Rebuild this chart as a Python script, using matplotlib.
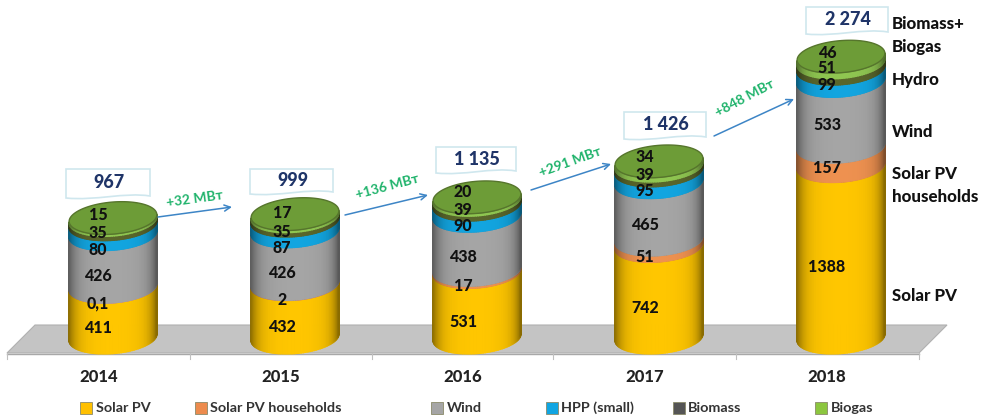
import numpy as np
import matplotlib
matplotlib.use('Agg')
import matplotlib.pyplot as plt
from matplotlib.patches import PathPatch, Polygon
from matplotlib.path import Path
from matplotlib.transforms import Affine2D

plt.rcParams['font.family'] = ['Lato', 'Open Sans', 'DejaVu Sans']

years = ['2014', '2015', '2016', '2017', '2018']
solar_pv = [411, 432, 531, 742, 1388]
households = [0.1, 2, 17, 51, 157]
wind = [426, 426, 438, 465, 533]
hydro = [80, 87, 90, 95, 99]
biomass = [35, 35, 39, 39, 51]
biogas = [15, 17, 20, 34, 46]
totals = ['967', '999', '1 135', '1 426', '2 274']
deltas = ['+32 МВт', '+136 МВт', '+291 МВт', '+848 МВт']
value_text = [['411', '432', '531', '742', '1388'],
              ['0,1', '2', '17', '51', '157'],
              ['426', '426', '438', '465', '533'],
              ['80', '87', '90', '95', '99'],
              ['35', '35', '39', '39', '51'],
              ['15', '17', '20', '34', '46']]
names = ['Solar PV', 'Solar PV households', 'Wind', 'HPP (small)', 'Biomass', 'Biogas']

series = [solar_pv, households, wind, hydro, biomass, biogas]
colors = ['#ffc600', '#ee9150', '#a5a5a5', '#12a5e0', '#59662b', '#8fc651']
legend_colors = ['#ffc000', '#ed8b4d', '#a5a5a5', '#10a5e2', '#555555', '#8cc63f']

# scale of the picture: 182 px per year, 0.1235 px per MW, zero at y=337.5
PX_X = 182.0
PX_Y = 0.1235
x0_px = 99.0
y0_px = 337.5

fig = plt.figure(figsize=(9.88, 4.19), dpi=100)
ax = fig.add_axes([0, 0, 1, 1])
ax.set_xlim(-x0_px / PX_X, (988 - x0_px) / PX_X)
ax.set_ylim((y0_px - 419) / PX_Y, y0_px / PX_Y)
ax.axis('off')

# for things placed in picture pixels, y going down
pt = Affine2D().scale(1, -1).translate(0, 419)

# floor
ax.add_patch(Polygon([(7, 353), (35, 325), (947, 325), (919, 353)], closed=True,
                     fc='#c4c4c4', ec='#b0b0b0', lw=0.8, transform=pt, zorder=1))
ax.plot([7, 919], [353.5, 353.5], color='#a8a8a8', lw=1, transform=pt, zorder=1)
for tx in [7, 190, 372, 553, 736, 919]:
    ax.plot([tx, tx], [353, 359], color='#c0c0c0', lw=0.8, transform=pt, zorder=1)

A = 44.0
B = 16.0
PHI = np.radians(5)
OFFSET = 14.0


def ell(theta):
    dx = A * np.cos(theta) * np.cos(PHI) - B * np.sin(theta) * np.sin(PHI)
    dy = A * np.cos(theta) * np.sin(PHI) + B * np.sin(theta) * np.cos(PHI)
    return dx, dy


def shade(color, t):
    c = np.array(matplotlib.colors.to_rgb(color))
    f = 1 - 0.38 * abs(2 * t - 1) ** 6 - 0.08 * abs(2 * t - 1) ** 2
    return tuple(c * f)


thetas = np.linspace(np.pi, 2 * np.pi, 61)
for i in range(len(years)):
    cx = i + OFFSET / PX_X
    base = 0.0
    for s, col in zip(series, colors):
        top = base + s[i]
        # side of this segment, strip by strip
        dx, dy = ell(thetas)
        xs = cx + dx / PX_X
        ys = dy / PX_Y
        for j in range(len(thetas) - 1):
            c = shade(col, (xs[j] - xs[0]) / (xs[-1] - xs[0]))
            ax.fill([xs[j], xs[j + 1], xs[j + 1], xs[j]],
                    [base + ys[j], base + ys[j + 1], top + ys[j + 1], top + ys[j]],
                    color=c, lw=1.0, zorder=3)
        if s[i] >= 1:
            ax.plot(xs, top + ys, color=tuple(np.array(matplotlib.colors.to_rgb(col)) * 0.72),
                    lw=0.7, zorder=3)
        base = top
    # green lid
    t = np.linspace(0, 2 * np.pi, 120)
    dx, dy = ell(t)
    ax.fill(cx + dx / PX_X, base + dy / PX_Y, fc='#6d9c37', ec='#56752c', lw=1, zorder=4)

# values on the cylinders, text positions
label_x = [98, 282, 463, 645, 827]
label_y = [[328, 327, 322, 308, 267],
           [303, 300, 286, 257, 168],
           [276, 273, 257, 225, 125],
           [250, 248, 226, 191, 85],
           [233, 232, 210, 175, 68],
           [215, 213, 192, 157, 53]]
for texts, ys in zip(value_text, label_y):
    for txt, lx, ly in zip(texts, label_x, ys):
        ax.text(lx, ly, txt, transform=pt, ha='center', va='center', fontsize=11.5,
                fontweight='black', color='#111111', zorder=6)

# total boxes with a wavy lower edge
box_left = [66, 250, 436, 624, 806]
box_right = [150, 333, 516, 706, 888]
box_top = [169, 169, 147, 112, 7]
box_h = [29, 25, 26, 27, 27]
for txt, l, r, b, h in zip(totals, box_left, box_right, box_top, box_h):
    w = r - l
    verts = [(l, b), (r, b), (r, b + h - 2),
             (l + 0.7 * w, b + h - 6), (l + 0.35 * w, b + h + 3), (l, b + h), (l, b)]
    codes = [Path.MOVETO, Path.LINETO, Path.LINETO,
             Path.CURVE4, Path.CURVE4, Path.CURVE4, Path.CLOSEPOLY]
    ax.add_patch(PathPatch(Path(verts, codes), fc='white', ec='#cfe7ee', lw=1.2,
                           transform=pt, zorder=5))
    ax.text((l + r) / 2 + 1, b + h / 2 - 1, txt, transform=pt, ha='center', va='center',
            fontsize=13, fontweight='black', color='#1f3468', zorder=6)

# growth arrows
arrow_from = [(158, 217), (345, 215), (531, 190), (714, 136)]
arrow_to = [(232, 207), (428, 195), (611, 164), (794, 99)]
delta_pos = [(195, 199), (387, 187), (570, 162), (745, 98)]
delta_rot = [8, 15, 20, 28]
for txt, a, b, p, r in zip(deltas, arrow_from, arrow_to, delta_pos, delta_rot):
    ax.annotate('', xy=(b[0], 419 - b[1]), xytext=(a[0], 419 - a[1]), xycoords='figure pixels',
                textcoords='figure pixels',
                arrowprops=dict(arrowstyle='->', color='#3d85c6', lw=1.1, shrinkA=0, shrinkB=0,
                                mutation_scale=11), zorder=5)
    ax.text(p[0], p[1], txt, transform=pt, ha='center', va='center', rotation=r,
            fontsize=10, fontweight='bold', color='#1fb36b', zorder=6)

# years
for i, y in enumerate(years):
    ax.text(i, (y0_px - 377) / PX_Y, y, ha='center', va='center', fontsize=12,
            fontweight='black', color='#222222', zorder=6)

# right side names
side_text = ['Biomass+', 'Biogas', 'Hydro', 'Wind', 'Solar PV', 'households', 'Solar PV']
side_y = [24, 47, 80, 132, 174, 197, 296]
for txt, sy in zip(side_text, side_y):
    ax.text(892, sy, txt, transform=pt, ha='left', va='center', fontsize=12.2,
            fontweight='black', color='#111111', zorder=6)

# legend
marker_x = [86, 201, 437, 552, 679, 821]
text_x = [96, 210, 447, 561, 688, 831]
for n, c, mx, tx in zip(names, legend_colors, marker_x, text_x):
    ax.plot([mx], [408], marker='s', ms=8, mfc=c, mec='#8a8a6a', mew=0.6, ls='none',
            transform=pt, zorder=6)
    ax.text(tx, 408, n, transform=pt, ha='left', va='center', fontsize=10.4,
            fontweight='bold', color='#333333', zorder=6)

fig.savefig('out.png', dpi=100)
